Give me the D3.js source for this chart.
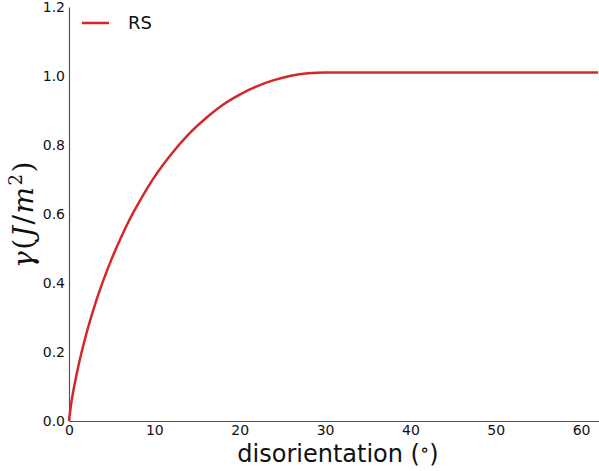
<!DOCTYPE html>
<html><head><meta charset="utf-8">
<script src="https://cdn.jsdelivr.net/npm/d3@7"></script>
<style>body{margin:0;background:#fff}svg{display:block}</style>
</head><body>
<svg id="c" width="599" height="471"></svg>
<script>
const angles = [0,0.25,0.5,1,2,3,4,5,6,7,8,9,10,12,14,16,18,20,22,24,26,28,30,62];
const gammaRS = [0,0.049,0.086,0.148,0.250,0.334,0.406,0.470,0.527,0.579,0.625,0.668,0.707,0.774,0.831,0.877,0.916,0.946,0.970,0.988,1.001,1.008,1.010,1.010];
const xTicks = [0,10,20,30,40,50,60];
const yTicks = [0.0,0.2,0.4,0.6,0.8,1.0,1.2];
const seriesName = "RS";

const svg = d3.select("#c");
const m = {l:69, r:0, t:7, b:50};
const W = 599, H = 471;
const x = d3.scaleLinear().domain([0,62.1]).range([m.l, W - m.r]);
const y = d3.scaleLinear().domain([0,1.2]).range([421, m.t]);

const font = "'DejaVu Sans', sans-serif";

const xa = svg.append("g").attr("transform","translate(0,421)")
  .call(d3.axisBottom(x).tickValues(xTicks).tickSize(0).tickPadding(4).tickFormat(d3.format("d")));
xa.select(".domain").attr("stroke","#555").attr("stroke-width",1.2);
xa.selectAll("text").attr("font-family",font).attr("font-size",14).attr("fill","#111").attr("dy","0.71em");

const ya = svg.append("g").attr("transform",`translate(${m.l},0)`)
  .call(d3.axisLeft(y).tickValues(yTicks).tickSize(0).tickPadding(4).tickFormat(d3.format(".1f")));
ya.select(".domain").attr("stroke","#555").attr("stroke-width",1.2);
ya.selectAll("text").attr("font-family",font).attr("font-size",14).attr("fill","#111");

const line = d3.line().x((d,i)=>x(angles[i])).y(d=>y(d)).curve(d3.curveMonotoneX);
svg.append("path").datum(gammaRS).attr("d",line)
  .attr("fill","none").attr("stroke","#d62728").attr("stroke-width",2.5);

// legend
svg.append("line").attr("x1",82).attr("x2",109).attr("y1",23).attr("y2",23)
  .attr("stroke","#d62728").attr("stroke-width",2.5);
svg.append("text").attr("x",128).attr("y",29).attr("font-family",font).attr("font-size",18)
  .attr("fill","#111").text(seriesName);

// x label
const xl = svg.append("text").attr("x",338).attr("y",462).attr("text-anchor","middle")
  .attr("font-family",font).attr("font-size",24).attr("fill","#111");
xl.append("tspan").text("disorientation (");
xl.append("tspan").attr("font-family","'DejaVu Serif', serif").attr("font-size",19).attr("dy",-6).text("∘");
xl.append("tspan").attr("dy",6).text(")");

// y label
const yl = svg.append("text").attr("transform","translate(33,214) rotate(-90)")
  .attr("text-anchor","middle").attr("font-family","'DejaVu Serif', serif")
  .attr("font-size",28).attr("letter-spacing",1.5).attr("fill","#111");
yl.append("tspan").attr("font-style","italic").text("γ");
yl.append("tspan").text("(");
yl.append("tspan").attr("font-style","italic").text("J");
yl.append("tspan").text("/");
yl.append("tspan").attr("font-style","italic").text("m");
yl.append("tspan").attr("font-size",18).attr("dy",-11).text("2");
yl.append("tspan").attr("dy",11).text(")");
</script>
</body></html>
